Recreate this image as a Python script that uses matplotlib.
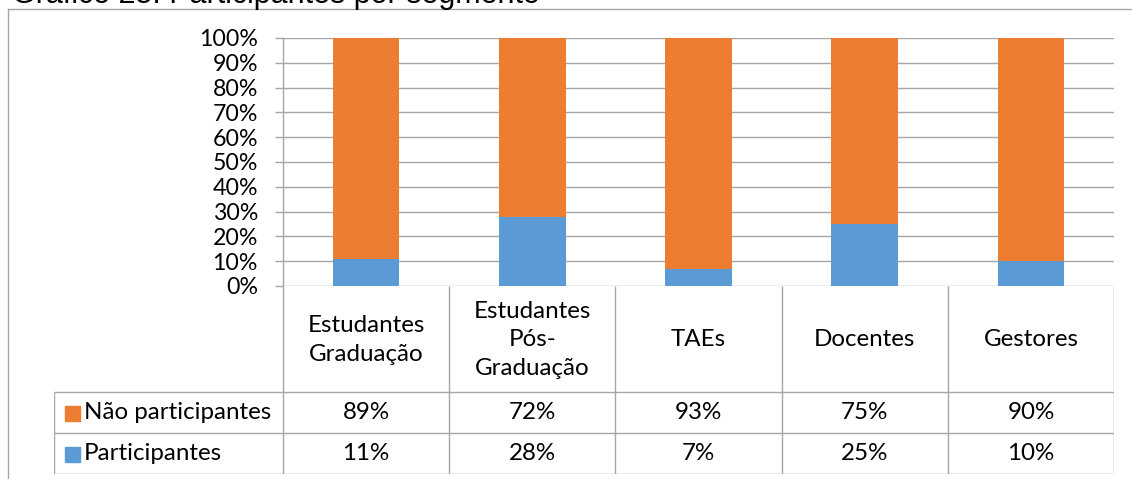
import matplotlib
matplotlib.use("Agg")
import matplotlib.pyplot as plt
import numpy as np

# data
title = "Gráfico 25: Participantes por segmento"
categories = ["Estudantes\nGraduação", "Estudantes\nPós-\nGraduação", "TAEs", "Docentes", "Gestores"]
series_names = ["Não participantes", "Participantes"]
nao_participantes = [89, 72, 93, 75, 90]
participantes = [11, 28, 7, 25, 10]

W, H = 1132, 479
ORANGE = "#ED7D31"
BLUE = "#5B9BD5"
GRID = "#A6A6A6"
FONT = "Lato"
TXT = 17.4

fig = plt.figure(figsize=(W / 100, H / 100), dpi=100)

def fx(px):
    return px / W

def fy(py):
    return 1 - py / H

# outer chart frame (right and bottom edges fall outside the picture)
fig.add_artist(plt.Line2D([fx(8), fx(8)], [fy(9), 0], color=GRID, lw=1.0))
fig.add_artist(plt.Line2D([fx(8), 1], [fy(9), fy(9)], color=GRID, lw=1.0))

# title, cut off at the top like in the original
fig.text(fx(12), fy(2.5), title, va="baseline", ha="left", fontsize=22,
         family="Liberation Sans", color="black")

# plot area
left, right, top, bottom = 283, 1114, 38, 286
ax = fig.add_axes([fx(left), fy(bottom), fx(right - left), (bottom - top) / H])
x = np.arange(len(categories))
ax.bar(x, participantes, 0.4, color=BLUE, zorder=3)
ax.bar(x, nao_participantes, 0.4, bottom=participantes, color=ORANGE, zorder=3)
ax.set_xlim(-0.5, len(categories) - 0.5)
ax.set_ylim(0, 100)
ax.set_yticks(np.arange(0, 101, 10))
ax.set_yticklabels(["%d%%" % v for v in range(0, 101, 10)], family=FONT, fontsize=16.7)
ax.set_xticks([])
ax.yaxis.grid(True, color=GRID, lw=1.0, zorder=0)
ax.tick_params(axis="y", direction="out", length=6, width=1.0, color=GRID, pad=12)
for s in ["top", "right", "bottom"]:
    ax.spines[s].set_visible(False)
ax.spines["left"].set_color(GRID)
ax.spines["left"].set_linewidth(1.0)

# data table under the bars
t_left, t_bottom = 54, 474
unit = (right - left) / len(categories)
tax = fig.add_axes([fx(t_left), fy(t_bottom), fx(right - t_left), (t_bottom - bottom) / H])
x0 = -0.5 - (left - t_left) / unit
tax.set_xlim(x0, len(categories) - 0.5)
tax.set_ylim(t_bottom, bottom)
tax.axis("off")

row_lines = [bottom, 392, 433, t_bottom]
lc = dict(color=GRID, lw=1.0, solid_capstyle="butt")
for xe in np.arange(-0.5, len(categories), 1.0):
    tax.plot([xe, xe], [bottom, t_bottom], **lc)
tax.plot([x0, x0], [row_lines[1], t_bottom], **lc)
for yl in row_lines[1:]:
    tax.plot([x0, len(categories) - 0.5], [yl, yl], **lc)

head_mid = (row_lines[0] + row_lines[1]) / 2
for i, c in enumerate(categories):
    tax.text(i, head_mid + 1, c, ha="center", va="center", family=FONT,
             fontsize=TXT, linespacing=1.45)

rows = [(series_names[0], nao_participantes, ORANGE), (series_names[1], participantes, BLUE)]
for r, (name, vals, col) in enumerate(rows):
    ym = (row_lines[r + 1] + row_lines[r + 2]) / 2
    tax.plot([x0 + 17.5 / unit], [ym], marker="s", ms=10.8, color=col, mec=col)
    tax.text(x0 + 30 / unit, ym, name, ha="left", va="center", family=FONT, fontsize=TXT)
    for i, v in enumerate(vals):
        tax.text(i, ym, "%d%%" % v, ha="center", va="center", family=FONT, fontsize=TXT)

fig.savefig("out.png", dpi=100)
